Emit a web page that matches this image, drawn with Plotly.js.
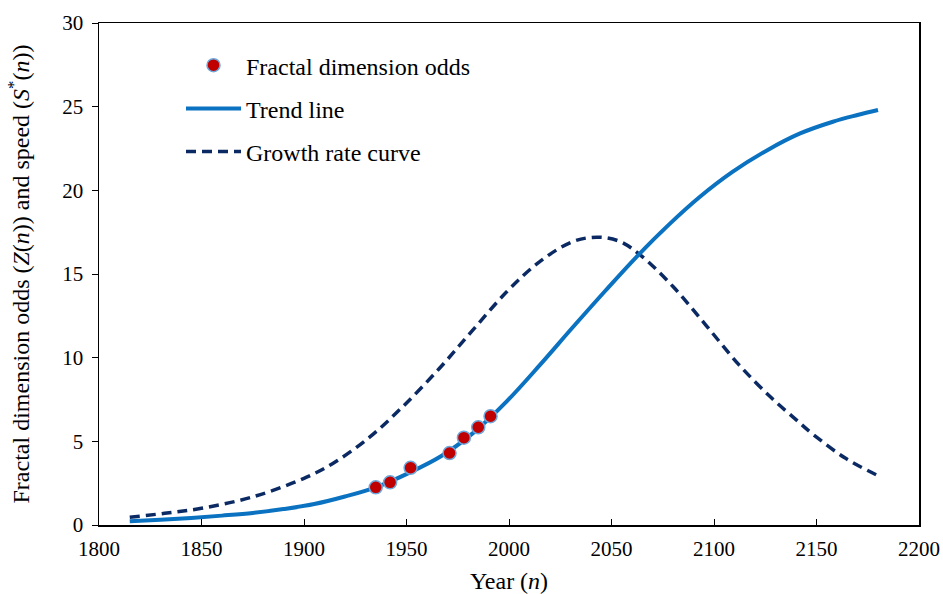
<!DOCTYPE html>
<html>
<head>
<meta charset="utf-8">
<script src="https://cdn.plot.ly/plotly-3.0.1.min.js"></script>
<style>html,body{margin:0;padding:0;background:#fff;}#chart{width:943px;height:594px;}</style>
</head>
<body>
<div id="chart"></div>
<script>
// Observed fractal dimension odds
const obsYears = [1935, 1942, 1952, 1971, 1978, 1985, 1991];
const obsValues = [2.25, 2.55, 3.42, 4.30, 5.22, 5.84, 6.50];

// Trend line
const trendYears = [1815, 1830, 1845, 1860, 1875, 1890, 1905, 1920, 1935, 1951, 1967, 1983, 1999, 2015, 2031, 2047, 2062, 2078, 2093, 2109, 2126, 2142, 2158, 2170, 2180];
const trendValues = [0.22, 0.31, 0.42, 0.56, 0.72, 0.95, 1.25, 1.7, 2.25, 3.1, 4.12, 5.55, 7.4, 9.55, 11.8, 14.0, 16.0, 17.95, 19.6, 21.1, 22.4, 23.4, 24.1, 24.5, 24.8];

// Growth rate curve
const growthYears = [1815, 1832, 1850, 1875, 1900, 1915, 1932, 1948, 1966, 1982, 1999, 2015, 2031, 2043, 2054, 2064, 2080, 2096, 2112, 2128, 2140, 2148, 2164, 2180];
const growthValues = [0.46, 0.7, 1.0, 1.68, 2.79, 3.75, 5.25, 7.05, 9.35, 11.6, 13.95, 15.74, 16.93, 17.2, 16.95, 16.14, 14.25, 11.95, 9.6, 7.6, 6.3, 5.45, 4.0, 2.95];

const seriesNames = ["Fractal dimension odds", "Trend line", "Growth rate curve"];

const FONT = "Liberation Serif, Times New Roman, serif";

const traces = [
  {
    x: growthYears, y: growthValues, type: "scatter", mode: "lines",
    name: seriesNames[2], legendgroup: "c", legendrank: 3,
    line: {color: "#0b2a63", width: 3.5, dash: "10px,6px", shape: "spline", smoothing: 1}
  },
  {
    x: trendYears, y: trendValues, type: "scatter", mode: "lines",
    name: seriesNames[1], legendgroup: "b", legendrank: 2,
    line: {color: "#0a72c0", width: 4, shape: "spline", smoothing: 1}
  },
  {
    x: obsYears, y: obsValues, type: "scatter", mode: "markers",
    name: seriesNames[0], legendgroup: "a", legendrank: 1,
    marker: {color: "#c00000", size: 13, line: {color: "#6fa8dc", width: 1.5}}
  }
];

const layout = {
  width: 943, height: 594,
  margin: {l: 99, r: 24, t: 23, b: 69},
  paper_bgcolor: "#fff", plot_bgcolor: "#fff",
  font: {family: FONT, size: 24, color: "#000"},
  showlegend: true,
  legend: {
    x: 0.1, y: 0.96, xanchor: "left", yanchor: "top",
    bgcolor: "rgba(0,0,0,0)", borderwidth: 0,
    font: {family: FONT, size: 24, color: "#000"},
    itemwidth: 55, tracegroupgap: 9, traceorder: "grouped"
  },
  xaxis: {
    range: [1800, 2200], dtick: 50, tick0: 1800,
    showgrid: false, zeroline: false,
    showline: true, linecolor: "#000", linewidth: 1.5, mirror: true,
    ticks: "inside", ticklen: 6, tickcolor: "#000", tickwidth: 1,
    ticklabelstandoff: 4,
    tickfont: {family: FONT, size: 21, color: "#000"},
    title: {text: "Year (<i>n</i>)", font: {family: FONT, size: 24, color: "#000"}, standoff: 12}
  },
  yaxis: {
    range: [0, 30], dtick: 5, tick0: 0,
    showgrid: false, zeroline: false,
    showline: true, linecolor: "#000", linewidth: 1.5, mirror: true,
    ticks: "outside", ticklen: 6, tickcolor: "#000", tickwidth: 1,
    ticklabelstandoff: 4,
    tickfont: {family: FONT, size: 21, color: "#000"},
    title: {text: "Fractal dimension odds (<i>Z</i>(<i>n</i>)) and speed (<i>S</i><sup>*</sup>(<i>n</i>))", font: {family: FONT, size: 24, color: "#000"}, standoff: 26}
  }
};

Plotly.newPlot("chart", traces, layout, {displayModeBar: false, staticPlot: true});
</script>
</body>
</html>
